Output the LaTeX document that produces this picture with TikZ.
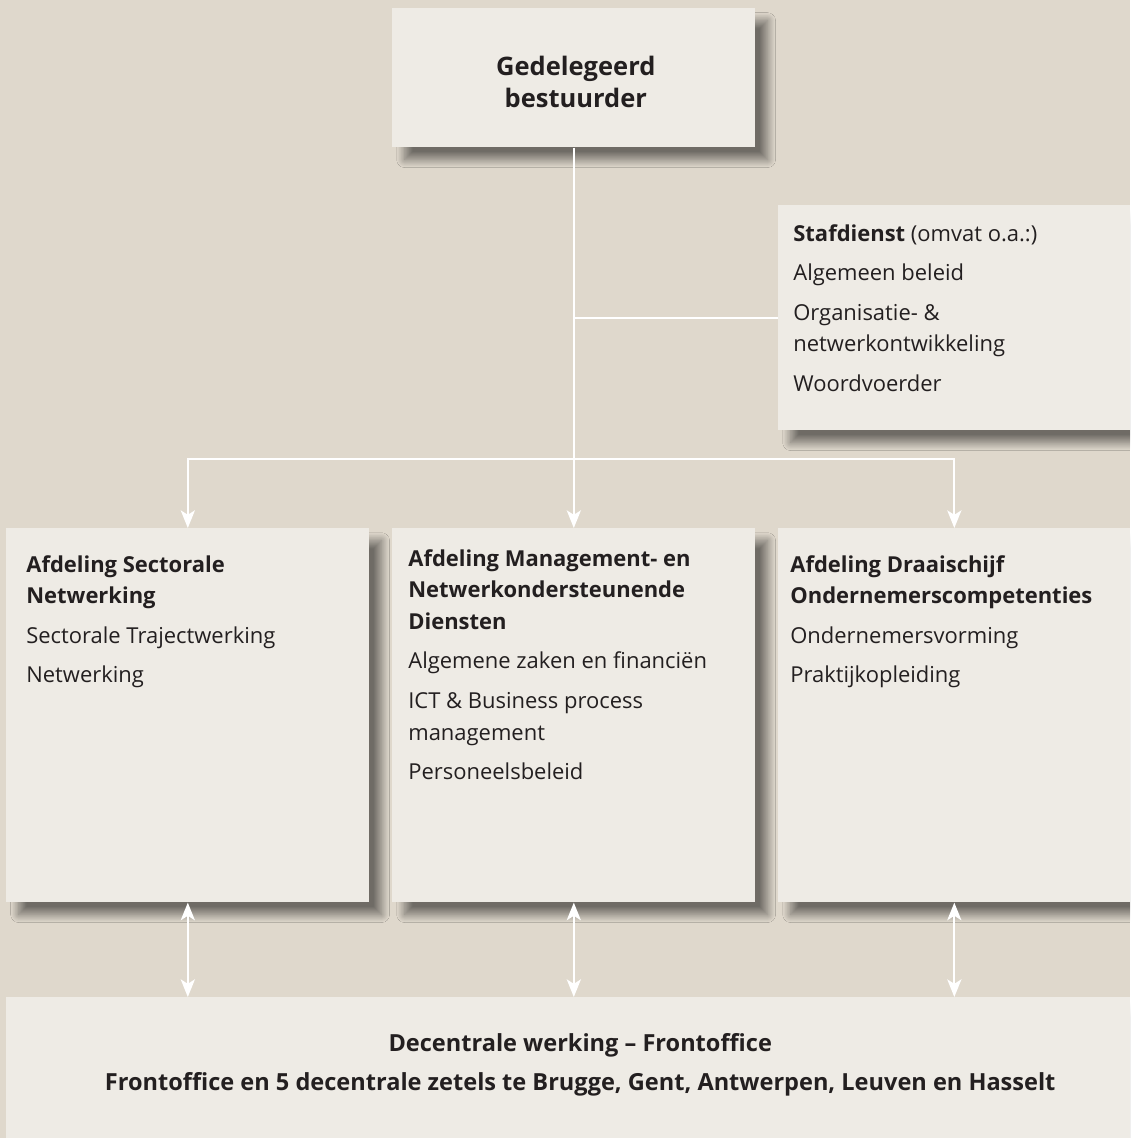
\documentclass[tikz,border=0pt]{standalone}
\usepackage{fontspec}
\setmainfont{Open Sans}[Ligatures=NoCommon]
\usetikzlibrary{arrows.meta,positioning,shadows.blur}
\definecolor{bgtan}{HTML}{DFD8CC}
\definecolor{boxfill}{HTML}{EEEBE5}
\definecolor{ink}{HTML}{231F20}
\newcommand{\orgfont}{\fontsize{12.5}{18}\selectfont}

\begin{document}
\begin{tikzpicture}[x=0.02cm,y=-0.02cm,
	font=\orgfont,text=ink,
	box/.style={rectangle,fill=boxfill,inner sep=0pt,anchor=north west,
		blur shadow={shadow xshift=7pt,shadow yshift=-7pt,shadow blur radius=4.5pt,shadow blur steps=20,shadow opacity=50}},
	txt/.style={anchor=north west,align=left,inner sep=0pt},
	headtxt/.style={align=center,inner sep=0pt},
	wire/.style={draw=white,line width=1.3pt},
	tip/.style={wire,-{Stealth[length=10pt,width=8pt,inset=2.5pt]}},
	twotip/.style={wire,{Stealth[length=10pt,width=8pt,inset=2.5pt]}-{Stealth[length=10pt,width=8pt,inset=2.5pt]}}]
	\fill[bgtan] (0,0) rectangle (1130,1138);
	\useasboundingbox (0,0) rectangle (1130,1138);
	\clip (0,0) rectangle (1130,1138);
	
	% boxes
	\node[box,minimum width=7.26cm,minimum height=2.78cm] (boss) at (392,8) {};
	\node[box,minimum width=7.04cm,minimum height=4.5cm] (staf) at (778,205) {};
	\node[box,minimum width=7.26cm,minimum height=7.48cm] (afd1) at (6,528) {};
	\node[box,minimum width=7.26cm,minimum height=7.48cm] (afd2) at (392,528) {};
	\node[box,minimum width=7.04cm,minimum height=7.48cm] (afd3) at (778,528) {};
	\node[box,minimum width=22.48cm,minimum height=2.82cm] (front) at (6,997) {};
	
	% texts
	\node[headtxt,font=\fontsize{14.5}{18}\selectfont\bfseries] (bosstxt) at ([shift={(2,4)}]boss.center) {Gedelegeerd\\bestuurder};
	\node[txt] (staftxt) at ([shift={(15,19)}]staf.north west)
		{\textbf{Stafdienst} (omvat o.a.:)\\[4.5pt]
		Algemeen beleid\\[4.5pt]
		Organisatie- \&\\netwerkontwikkeling\\[4.5pt]
		Woordvoerder};
	\node[txt] (afd1txt) at ([shift={(20,27)}]afd1.north west)
		{\textbf{Afdeling Sectorale}\\\textbf{Netwerking}\\[4.5pt]
		Sectorale Trajectwerking\\[4.5pt]
		Netwerking};
	\node[txt] (afd2txt) at ([shift={(16,21)}]afd2.north west)
		{\textbf{Afdeling Management- en}\\\textbf{Netwerkondersteunende}\\\textbf{Diensten}\\[4.5pt]
		Algemene zaken en financiën\\[4.5pt]
		ICT \& Business process\\management\\[4.5pt]
		Personeelsbeleid};
	\node[txt] (afd3txt) at ([shift={(12,27)}]afd3.north west)
		{\textbf{Afdeling Draaischijf}\\\textbf{Ondernemerscompetenties}\\[4.5pt]
		Ondernemersvorming\\[4.5pt]
		Praktijkopleiding};
	\node[headtxt,font=\fontsize{13.4}{18}\selectfont\bfseries] (fronttxt) at ([shift={(12,-3)}]front.center)
		{Decentrale werking -- Frontoffice\\[4.5pt]
		Frontoffice en 5 decentrale zetels te Brugge, Gent, Antwerpen, Leuven en Hasselt};
	
	% connectors
	\coordinate (bar) at (573.5,459);
	\draw[tip] (boss.south) -- (afd2.north);
	\draw[tip] (bar) -| (afd1.north);
	\draw[tip] (bar) -| (afd3.north);
	\draw[wire] (boss.south |- staf.west) -- (staf.west);
	\draw[twotip] (afd1.south) -- (afd1.south |- front.north);
	\draw[twotip] (afd2.south) -- (afd2.south |- front.north);
	\draw[twotip] (afd3.south) -- (afd3.south |- front.north);
	
\end{tikzpicture}
\end{document}
